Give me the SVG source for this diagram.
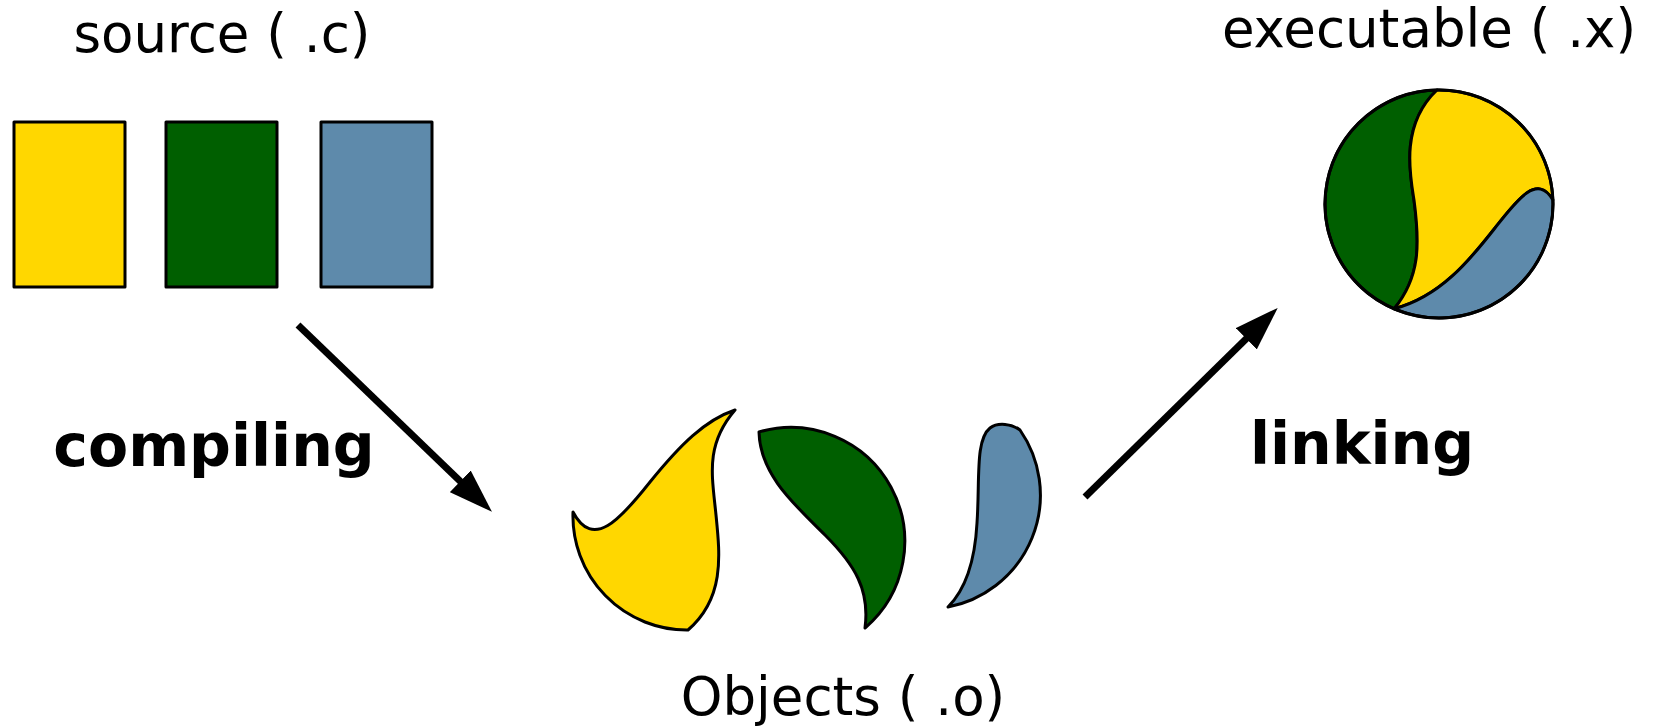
<svg xmlns="http://www.w3.org/2000/svg" width="1656" height="727" viewBox="0 0 1656 727">
<defs>
<style>
.lbl{font-family:"DejaVu Sans","Liberation Sans",sans-serif;font-size:53px;fill:#000;text-anchor:middle}
.bold{font-family:"DejaVu Sans","Liberation Sans",sans-serif;font-size:58.5px;font-weight:bold;fill:#000;text-anchor:middle}
.piece{stroke:#000;stroke-width:3;stroke-linejoin:round}
.y{fill:#ffd700}
.g{fill:#005f00}
.b{fill:#5e8aab}
.arrow{stroke:#000;stroke-width:7;fill:none;marker-end:url(#ah)}
</style>
<marker id="ah" viewBox="0 0 44 30" markerWidth="44" markerHeight="30" refX="1" refY="15" orient="auto" markerUnits="userSpaceOnUse">
<path d="M0,0 L44,15 L0,30 Z" fill="#000"/>
</marker>
</defs>
<rect width="1656" height="727" fill="#fff"/>

<g id="source">
<text class="lbl" x="222" y="52">source ( .c)</text>
<rect class="piece y" x="14" y="122" width="111" height="165"/>
<rect class="piece g" x="166" y="122" width="111" height="165"/>
<rect class="piece b" x="321" y="122" width="111" height="165"/>
</g>

<g id="objects">
<path class="piece y" d="M735,410 C705,420 680,445 650,482 C620,520 593,550 573,512 A114,114 0 0 0 688,630 C725,598 720,555 716,515 C712,475 705,445 735,410 Z"/>
<path class="piece g" d="M759,432 A114,114 0 0 1 865,628 C870,590 855,565 825,535 C795,505 760,475 759,432 Z"/>
<path class="piece b" d="M948,607 C965,590 975,560 977,523 C980,480 975,440 990,428 C998,422 1012,424 1020,430 A114,114 0 0 1 948,607 Z"/>
<text class="lbl" x="843" y="715">Objects ( .o)</text>
</g>

<g id="executable">
<text class="lbl" x="1429" y="47">executable ( .x)</text>
<path class="piece g" d="M1437,90.02 C1400,125 1410,175 1414,200 C1420,245 1420,277 1394.2,308.8 A114,114 0 0 1 1437,90.02 Z"/>
<path class="piece y" d="M1437,90.02 A114,114 0 0 1 1552.9,200 C1537,173 1517,200 1495,228 C1470,260 1440,297 1394.2,308.8 C1420,277 1420,245 1414,200 C1410,175 1400,125 1437,90.02 Z"/>
<path class="piece b" d="M1394.2,308.8 C1440,297 1470,260 1495,228 C1517,200 1537,173 1552.9,200 A114,114 0 0 1 1394.2,308.8 Z"/>
<circle cx="1439" cy="204" r="114" fill="none" stroke="#000" stroke-width="3"/>
</g>

<g id="connectors">
<path class="arrow" d="M298,325 L461,482"/>
<path class="arrow" d="M1085,497 L1247,338"/>
<text class="bold" x="214" y="466">compiling</text>
<text class="bold" x="1362" y="464">linking</text>
</g>
</svg>
